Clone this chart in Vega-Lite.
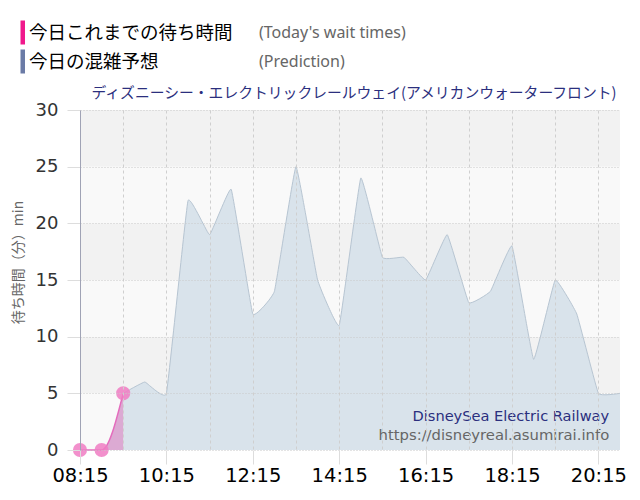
{
  "$schema": "https://vega.github.io/schema/vega-lite/v6.json",
  "width": 540,
  "height": 340,
  "autosize": {"type": "none"},
  "padding": {"left": 80, "top": 110, "right": 20, "bottom": 50},
  "background": "white",
  "title": {
    "text": "ディズニーシー・エレクトリックレールウェイ(アメリカンウォーターフロント)",
    "anchor": "end",
    "fontSize": 14.8,
    "font": "Noto Sans CJK JP",
    "fontWeight": "normal",
    "color": "#2b2f7e",
    "offset": 8,
    "dy": 89,
    "dx": -10
  },
  "config": {
    "view": {"stroke": null},
    "font": "DejaVu Sans",
    "axisX": {
      "domain": false,
      "grid": true,
      "gridColor": "#cfcfcf",
      "gridDash": [3, 3],
      "gridWidth": 1,
      "tickSize": 14,
      "labelFontSize": 19.5,
      "labelColor": "#000",
      "labelPadding": 2,
      "labelFlush": false,
      "labelFont": "DejaVu Sans"
    },
    "axisY": {
      "domain": true,
      "domainColor": "#a0a3b5",
      "grid": true,
      "gridColor": "#c8c8c8",
      "gridDash": [1, 2],
      "tickColor": "#dddddd",
      "tickSize": 13,
      "labelFontSize": 18,
      "labelColor": "#333",
      "labelPadding": 9,
      "labelFont": "DejaVu Sans",
      "titleFont": "Noto Sans CJK JP",
      "titleFontSize": 14,
      "titleFontWeight": "normal",
      "titleColor": "#666"
    }
  },
  "datasets": {
    "actual": [
      {"t": "2024-06-01T08:15", "v": 0},
      {"t": "2024-06-01T08:45", "v": 0},
      {"t": "2024-06-01T09:15", "v": 5}
    ],
    "prediction": [
      {"t": "2024-06-01T09:15", "v": 5},
      {"t": "2024-06-01T09:45", "v": 6},
      {"t": "2024-06-01T10:15", "v": 5},
      {"t": "2024-06-01T10:45", "v": 22},
      {"t": "2024-06-01T11:15", "v": 19},
      {"t": "2024-06-01T11:45", "v": 23},
      {"t": "2024-06-01T12:15", "v": 12},
      {"t": "2024-06-01T12:45", "v": 14},
      {"t": "2024-06-01T13:15", "v": 25},
      {"t": "2024-06-01T13:45", "v": 15},
      {"t": "2024-06-01T14:15", "v": 11},
      {"t": "2024-06-01T14:45", "v": 24},
      {"t": "2024-06-01T15:15", "v": 17},
      {"t": "2024-06-01T15:45", "v": 17},
      {"t": "2024-06-01T16:15", "v": 15},
      {"t": "2024-06-01T16:45", "v": 19},
      {"t": "2024-06-01T17:15", "v": 13},
      {"t": "2024-06-01T17:45", "v": 14},
      {"t": "2024-06-01T18:15", "v": 18},
      {"t": "2024-06-01T18:45", "v": 8},
      {"t": "2024-06-01T19:15", "v": 15},
      {"t": "2024-06-01T19:45", "v": 12},
      {"t": "2024-06-01T20:15", "v": 5},
      {"t": "2024-06-01T20:45", "v": 5}
    ],
    "bandsLight": [
      {"lo": 0, "hi": 5},
      {"lo": 10, "hi": 15},
      {"lo": 20, "hi": 25}
    ],
    "bandsDark": [
      {"lo": 5, "hi": 10},
      {"lo": 15, "hi": 20},
      {"lo": 25, "hi": 30}
    ],
    "legend": [
      {"s": "今日これまでの待ち時間", "en": "(Today's wait times)"},
      {"s": "今日の混雑予想", "en": "(Prediction)"}
    ]
  },
  "layer": [
    {
      "data": {"name": "bandsDark"},
      "mark": {"type": "rect", "fill": "#f2f2f2"},
      "encoding": {
        "y": {"field": "lo", "type": "quantitative", "title": "待ち時間（分）min",
              "scale": {"domain": [0, 30], "nice": false},
              "axis": {"zindex": 1, "values": [0, 5, 10, 15, 20, 25, 30], "titleX": -62, "titleY": 152, "titleAngle": -90, "titleAlign": "center", "titleBaseline": "middle"}},
        "y2": {"field": "hi"}
      }
    },
    {
      "data": {"name": "bandsLight"},
      "mark": {"type": "rect", "fill": "#f9f9f9"},
      "encoding": {
        "y": {"field": "lo", "type": "quantitative", "title": "待ち時間（分）min"},
        "y2": {"field": "hi"}
      }
    },
    {
      "data": {"name": "prediction"},
      "mark": {"type": "area", "interpolate": "cardinal", "tension": 0.75, "fill": "#d9e3eb", "opacity": 1, "line": {"color": "#b7c5d2", "strokeWidth": 1}},
      "encoding": {
        "x": {"field": "t", "type": "temporal", "title": null,
              "scale": {"domain": [
                {"year": 2024, "month": 6, "date": 1, "hours": 8, "minutes": 15},
                {"year": 2024, "month": 6, "date": 1, "hours": 20, "minutes": 45}], "nice": false},
              "axis": {
                "zindex": 1,
                "values": [
                  {"year": 2024, "month": 6, "date": 1, "hours": 8, "minutes": 15},
                  {"year": 2024, "month": 6, "date": 1, "hours": 8, "minutes": 45},
                  {"year": 2024, "month": 6, "date": 1, "hours": 9, "minutes": 15},
                  {"year": 2024, "month": 6, "date": 1, "hours": 9, "minutes": 45},
                  {"year": 2024, "month": 6, "date": 1, "hours": 10, "minutes": 15},
                  {"year": 2024, "month": 6, "date": 1, "hours": 10, "minutes": 45},
                  {"year": 2024, "month": 6, "date": 1, "hours": 11, "minutes": 15},
                  {"year": 2024, "month": 6, "date": 1, "hours": 11, "minutes": 45},
                  {"year": 2024, "month": 6, "date": 1, "hours": 12, "minutes": 15},
                  {"year": 2024, "month": 6, "date": 1, "hours": 12, "minutes": 45},
                  {"year": 2024, "month": 6, "date": 1, "hours": 13, "minutes": 15},
                  {"year": 2024, "month": 6, "date": 1, "hours": 13, "minutes": 45},
                  {"year": 2024, "month": 6, "date": 1, "hours": 14, "minutes": 15},
                  {"year": 2024, "month": 6, "date": 1, "hours": 14, "minutes": 45},
                  {"year": 2024, "month": 6, "date": 1, "hours": 15, "minutes": 15},
                  {"year": 2024, "month": 6, "date": 1, "hours": 15, "minutes": 45},
                  {"year": 2024, "month": 6, "date": 1, "hours": 16, "minutes": 15},
                  {"year": 2024, "month": 6, "date": 1, "hours": 16, "minutes": 45},
                  {"year": 2024, "month": 6, "date": 1, "hours": 17, "minutes": 15},
                  {"year": 2024, "month": 6, "date": 1, "hours": 17, "minutes": 45},
                  {"year": 2024, "month": 6, "date": 1, "hours": 18, "minutes": 15},
                  {"year": 2024, "month": 6, "date": 1, "hours": 18, "minutes": 45},
                  {"year": 2024, "month": 6, "date": 1, "hours": 19, "minutes": 15},
                  {"year": 2024, "month": 6, "date": 1, "hours": 19, "minutes": 45},
                  {"year": 2024, "month": 6, "date": 1, "hours": 20, "minutes": 15},
                  {"year": 2024, "month": 6, "date": 1, "hours": 20, "minutes": 45}
                ],
                "labelExpr": "(minutes(datum.value) == 15 && hours(datum.value) % 2 == 0) ? timeFormat(datum.value, '%H:%M') : ''",
                "tickColor": {"condition": {"test": "minutes(datum.value) == 15 && hours(datum.value) % 2 == 0", "value": "#dddddd"}, "value": "transparent"}
              }},
        "y": {"field": "v", "type": "quantitative", "title": "待ち時間（分）min"}
      }
    },
    {
      "data": {"name": "actual"},
      "mark": {"type": "area", "interpolate": "monotone", "fill": "#dcaad3", "opacity": 1, "line": {"color": "#e46cbd", "strokeWidth": 1.5}},
      "encoding": {
        "x": {"field": "t", "type": "temporal", "title": null},
        "y": {"field": "v", "type": "quantitative", "title": "待ち時間（分）min"}
      }
    },
    {
      "data": {"name": "actual"},
      "mark": {"type": "point", "filled": true, "size": 200, "color": "#f07cc3", "opacity": 0.85},
      "encoding": {
        "x": {"field": "t", "type": "temporal", "title": null},
        "y": {"field": "v", "type": "quantitative", "title": "待ち時間（分）min"}
      }
    },
    {
      "data": {"name": "actual"},
      "transform": [{"filter": "datum.t == '2024-06-01T09:15'"}],
      "mark": {"type": "text", "dy": -18, "fontSize": 15, "color": "#111", "font": "DejaVu Sans"},
      "encoding": {
        "x": {"field": "t", "type": "temporal", "title": null},
        "y": {"field": "v", "type": "quantitative", "title": "待ち時間（分）min"},
        "text": {"field": "v", "type": "quantitative"}
      }
    },
    {
      "data": {"values": [{}]},
      "mark": {"type": "text", "align": "right", "baseline": "middle", "fontSize": 14.6, "color": "#2b2f7e", "font": "DejaVu Sans"},
      "encoding": {
        "x": {"datum": {"year": 2024, "month": 6, "date": 1, "hours": 20, "minutes": 30}, "type": "temporal"},
        "y": {"datum": 2.95, "type": "quantitative"},
        "text": {"value": "DisneySea Electric Railway"}
      }
    },
    {
      "data": {"values": [{}]},
      "mark": {"type": "text", "align": "right", "baseline": "middle", "fontSize": 14.8, "color": "#666666", "font": "DejaVu Sans"},
      "encoding": {
        "x": {"datum": {"year": 2024, "month": 6, "date": 1, "hours": 20, "minutes": 30}, "type": "temporal"},
        "y": {"datum": 1.25, "type": "quantitative"},
        "text": {"value": "https://disneyreal.asumirai.info"}
      }
    },
    {
      "data": {"name": "legend"},
      "mark": {"type": "point", "filled": true, "opacity": 0},
      "encoding": {
        "color": {"field": "s", "type": "nominal",
          "scale": {"domain": ["今日これまでの待ち時間", "今日の混雑予想"], "range": ["#f0198c", "#6b7ba6"]},
          "legend": {"orient": "none", "legendX": -79.5, "legendY": -90, "title": null,
            "symbolType": "M0.6,-0.96H0.96V0.96H0.6Z", "symbolSize": 625, "symbolOpacity": 1, "symbolStrokeWidth": 0,
            "labelFontSize": 18.5, "labelFont": "Noto Sans CJK JP", "labelColor": "#000", "labelOffset": 3.5, "rowPadding": 4, "labelLimit": 400}}
      }
    },
    {
      "data": {"name": "legend"},
      "mark": {"type": "point", "filled": true, "opacity": 0},
      "encoding": {
        "shape": {"field": "en", "type": "nominal",
          "scale": {"domain": ["(Today's wait times)", "(Prediction)"]},
          "legend": {"orient": "none", "legendX": 154, "legendY": -90, "title": null,
            "symbolSize": 625, "symbolOpacity": 0, "symbolStrokeWidth": 0,
            "labelFontSize": 16, "labelFont": "Noto Sans", "labelColor": "#666", "labelOffset": 0, "rowPadding": 4, "labelLimit": 400}}
      }
    }
  ]
}
